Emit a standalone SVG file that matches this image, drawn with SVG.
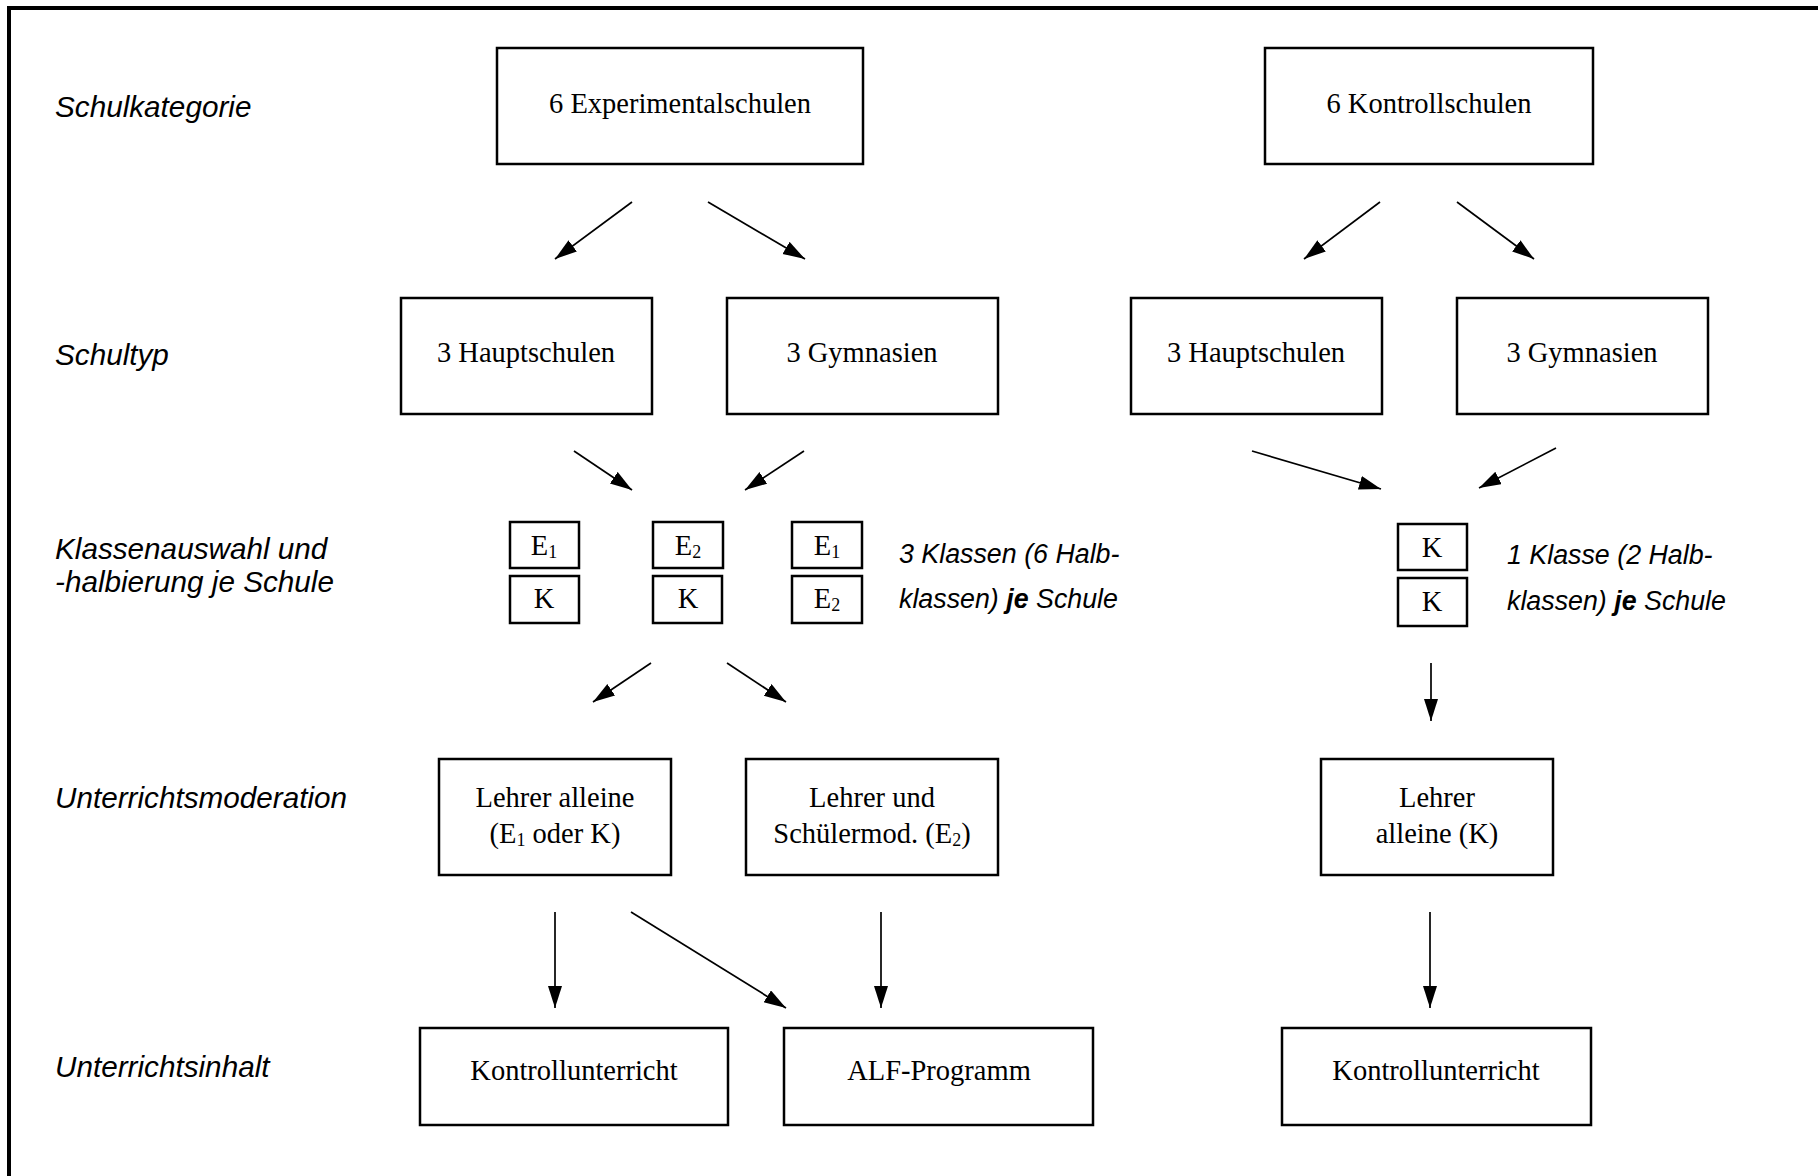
<svg xmlns="http://www.w3.org/2000/svg" width="1818" height="1176" viewBox="0 0 1818 1176">
<defs>
<marker id="ah" markerUnits="userSpaceOnUse" markerWidth="24" markerHeight="16" refX="22" refY="7" orient="auto">
<path d="M0,0 L22,7 L0,14 z" fill="#000"/>
</marker>
<style>
.box{fill:#fff;stroke:#000;stroke-width:2.5}
.sbox{fill:#fff;stroke:#000;stroke-width:2.5}
.t{font-family:"Liberation Serif","Times New Roman",serif;font-size:28.5px;fill:#000;text-anchor:middle}
.lab{font-family:"Liberation Sans",Arial,sans-serif;font-style:italic;font-size:29.7px;fill:#000}
.note{font-family:"Liberation Sans",Arial,sans-serif;font-style:italic;font-size:26.8px;fill:#000}
.sub{font-size:18px}
.conn line{stroke:#000;stroke-width:1.7;marker-end:url(#ah)}
</style>
</defs>
<rect width="1818" height="1176" fill="#fff"/>
<path d="M9,1176 L9,8 L1818,8" fill="none" stroke="#000" stroke-width="4"/>

<g id="labels">
<text class="lab" x="55" y="117">Schulkategorie</text>
<text class="lab" x="55" y="365">Schultyp</text>
<text class="lab" x="55" y="559">Klassenauswahl und</text>
<text class="lab" x="55" y="592">-halbierung je Schule</text>
<text class="lab" x="55" y="808">Unterrichtsmoderation</text>
<text class="lab" x="55" y="1077">Unterrichtsinhalt</text>
</g>

<g id="exp">
<rect class="box" x="497" y="48" width="366" height="116"/>
<text class="t" x="680" y="113">6 Experimentalschulen</text>
</g>
<g id="kon">
<rect class="box" x="1265" y="48" width="328" height="116"/>
<text class="t" x="1429" y="113">6 Kontrollschulen</text>
</g>

<g id="exp-haupt">
<rect class="box" x="401" y="298" width="251" height="116"/>
<text class="t" x="526" y="362">3 Hauptschulen</text>
</g>
<g id="exp-gym">
<rect class="box" x="727" y="298" width="271" height="116"/>
<text class="t" x="862" y="362">3 Gymnasien</text>
</g>
<g id="kon-haupt">
<rect class="box" x="1131" y="298" width="251" height="116"/>
<text class="t" x="1256" y="362">3 Hauptschulen</text>
</g>
<g id="kon-gym">
<rect class="box" x="1457" y="298" width="251" height="116"/>
<text class="t" x="1582" y="362">3 Gymnasien</text>
</g>

<g id="exp-klassen">
<rect class="sbox" x="510" y="522" width="69" height="46"/>
<text class="t" x="544" y="555">E<tspan class="sub" dy="3">1</tspan></text>
<rect class="sbox" x="510" y="576" width="69" height="47"/>
<text class="t" x="544" y="608">K</text>
<rect class="sbox" x="653" y="522" width="70" height="46"/>
<text class="t" x="688" y="555">E<tspan class="sub" dy="3">2</tspan></text>
<rect class="sbox" x="653" y="576" width="69" height="47"/>
<text class="t" x="688" y="608">K</text>
<rect class="sbox" x="792" y="522" width="70" height="46"/>
<text class="t" x="827" y="555">E<tspan class="sub" dy="3">1</tspan></text>
<rect class="sbox" x="792" y="576" width="70" height="47"/>
<text class="t" x="827" y="608">E<tspan class="sub" dy="3">2</tspan></text>
<text class="note" x="899" y="563">3 Klassen (6 Halb-</text>
<text class="note" x="899" y="608">klassen) <tspan font-weight="bold">je</tspan> Schule</text>
</g>

<g id="kon-klassen">
<rect class="sbox" x="1398" y="524" width="69" height="46"/>
<text class="t" x="1432" y="557">K</text>
<rect class="sbox" x="1398" y="578" width="69" height="48"/>
<text class="t" x="1432" y="611">K</text>
<text class="note" x="1507" y="564">1 Klasse (2 Halb-</text>
<text class="note" x="1507" y="610">klassen) <tspan font-weight="bold">je</tspan> Schule</text>
</g>

<g id="mod-allein">
<rect class="box" x="439" y="759" width="232" height="116"/>
<text class="t" x="555" y="807">Lehrer alleine</text>
<text class="t" x="555" y="843">(E<tspan class="sub" dy="3">1</tspan><tspan dy="-3"> oder K)</tspan></text>
</g>
<g id="mod-schueler">
<rect class="box" x="746" y="759" width="252" height="116"/>
<text class="t" x="872" y="807">Lehrer und</text>
<text class="t" x="872" y="843">Schülermod. (E<tspan class="sub" dy="3">2</tspan><tspan dy="-3">)</tspan></text>
</g>
<g id="mod-kon">
<rect class="box" x="1321" y="759" width="232" height="116"/>
<text class="t" x="1437" y="807">Lehrer</text>
<text class="t" x="1437" y="843">alleine (K)</text>
</g>

<g id="inh-kontroll">
<rect class="box" x="420" y="1028" width="308" height="97"/>
<text class="t" x="574" y="1080">Kontrollunterricht</text>
</g>
<g id="inh-alf">
<rect class="box" x="784" y="1028" width="309" height="97"/>
<text class="t" x="939" y="1080">ALF-Programm</text>
</g>
<g id="inh-kon">
<rect class="box" x="1282" y="1028" width="309" height="97"/>
<text class="t" x="1436" y="1080">Kontrollunterricht</text>
</g>

<g class="conn" id="connectors">
<line x1="632" y1="202" x2="555" y2="259"/>
<line x1="708" y1="202" x2="805" y2="259"/>
<line x1="1380" y1="202" x2="1304" y2="259"/>
<line x1="1457" y1="202" x2="1534" y2="259"/>
<line x1="574" y1="451" x2="632" y2="490"/>
<line x1="804" y1="451" x2="745" y2="490"/>
<line x1="1252" y1="451" x2="1381" y2="489"/>
<line x1="1556" y1="448" x2="1479" y2="488"/>
<line x1="651" y1="663" x2="593" y2="702"/>
<line x1="727" y1="663" x2="786" y2="702"/>
<line x1="1431" y1="663" x2="1431" y2="721"/>
<line x1="555" y1="912" x2="555" y2="1008"/>
<line x1="631" y1="912" x2="786" y2="1008"/>
<line x1="881" y1="912" x2="881" y2="1008"/>
<line x1="1430" y1="912" x2="1430" y2="1008"/>
</g>
</svg>
